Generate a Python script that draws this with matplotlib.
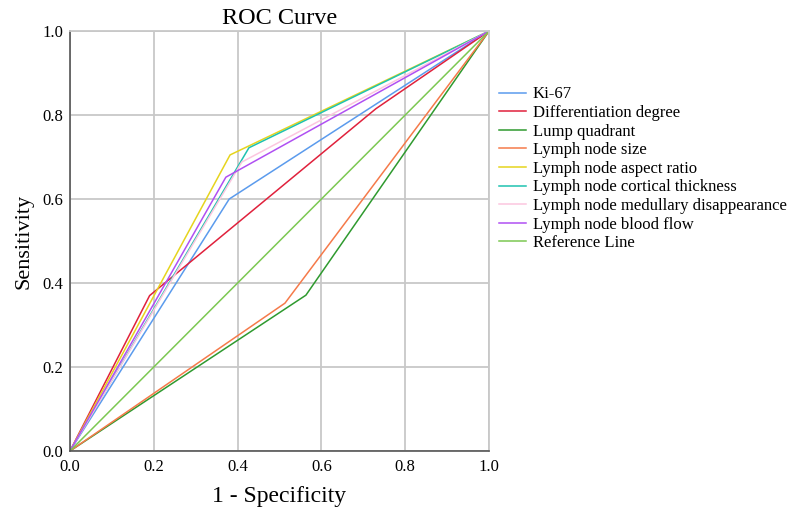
import matplotlib
matplotlib.use('Agg')
import matplotlib.pyplot as plt

plt.rcParams['font.family'] = ['Liberation Serif', 'DejaVu Serif']

# ROC points (1 - specificity, sensitivity)
ki67_x = [0.0, 0.38, 1.0]
ki67_y = [0.0, 0.60, 1.0]
diff_x = [0.0, 0.19, 0.73, 1.0]
diff_y = [0.0, 0.37, 0.815, 1.0]
lump_x = [0.0, 0.563, 1.0]
lump_y = [0.0, 0.371, 1.0]
size_x = [0.0, 0.513, 1.0]
size_y = [0.0, 0.352, 1.0]
aspect_x = [0.0, 0.382, 1.0]
aspect_y = [0.0, 0.705, 1.0]
cortical_x = [0.0, 0.427, 1.0]
cortical_y = [0.0, 0.722, 1.0]
medullary_x = [0.0, 0.41, 1.0]
medullary_y = [0.0, 0.688, 1.0]
flow_x = [0.0, 0.372, 1.0]
flow_y = [0.0, 0.652, 1.0]
ref_x = [0.0, 1.0]
ref_y = [0.0, 1.0]

labels = ['Ki-67', 'Differentiation degree', 'Lump quadrant', 'Lymph node size',
          'Lymph node aspect ratio', 'Lymph node cortical thickness',
          'Lymph node medullary disappearance', 'Lymph node blood flow', 'Reference Line']
colors = ['#5b9bed', '#e0213c', '#2f9a2f', '#f57a4a', '#e6d41e', '#1fc2b0',
          '#fcc6df', '#b050f2', '#7cc852']

series = [(ki67_x, ki67_y), (diff_x, diff_y), (lump_x, lump_y), (size_x, size_y),
          (aspect_x, aspect_y), (cortical_x, cortical_y), (medullary_x, medullary_y),
          (flow_x, flow_y), (ref_x, ref_y)]

fig = plt.figure(figsize=(7.9, 5.09), dpi=100)
ax = fig.add_axes([0.0886, 0.114, 0.5304, 0.825])

for (xs, ys), lab, c in zip(series, labels, colors):
    ax.plot(xs, ys, color=c, lw=1.1, label=lab)

ax.set_xlim(0, 1)
ax.set_ylim(0, 1)
ax.set_xticks([0, 0.2, 0.4, 0.6, 0.8, 1.0])
ax.set_yticks([0, 0.2, 0.4, 0.6, 0.8, 1.0])
ax.set_xticklabels(['0.0', '0.2', '0.4', '0.6', '0.8', '1.0'])
ax.set_yticklabels(['0.0', '0.2', '0.4', '0.6', '0.8', '1.0'])
ax.tick_params(labelsize=12, length=0)
ax.tick_params(axis='x', pad=6)
ax.tick_params(axis='y', pad=5)
ax.grid(True, color='#c8c8c8', lw=1.3)
ax.set_axisbelow(True)
for s in ['top', 'right']:
    ax.spines[s].set_color('#c8c8c8')
    ax.spines[s].set_linewidth(1.3)
for s in ['left', 'bottom']:
    ax.spines[s].set_color('#555555')
    ax.spines[s].set_linewidth(1.2)

ax.set_title('ROC Curve', fontsize=17.5, pad=5)
ax.set_xlabel('1 - Specificity', fontsize=17, labelpad=8)
ax.set_ylabel('Sensitivity', fontsize=16, labelpad=6)

ax.legend(loc='upper left', bbox_to_anchor=(1.025, 0.868), frameon=False, fontsize=12,
          handlelength=1.6, handletextpad=0.4, labelspacing=0.155, borderaxespad=0,
          borderpad=0)

fig.savefig('out.png', dpi=100)
